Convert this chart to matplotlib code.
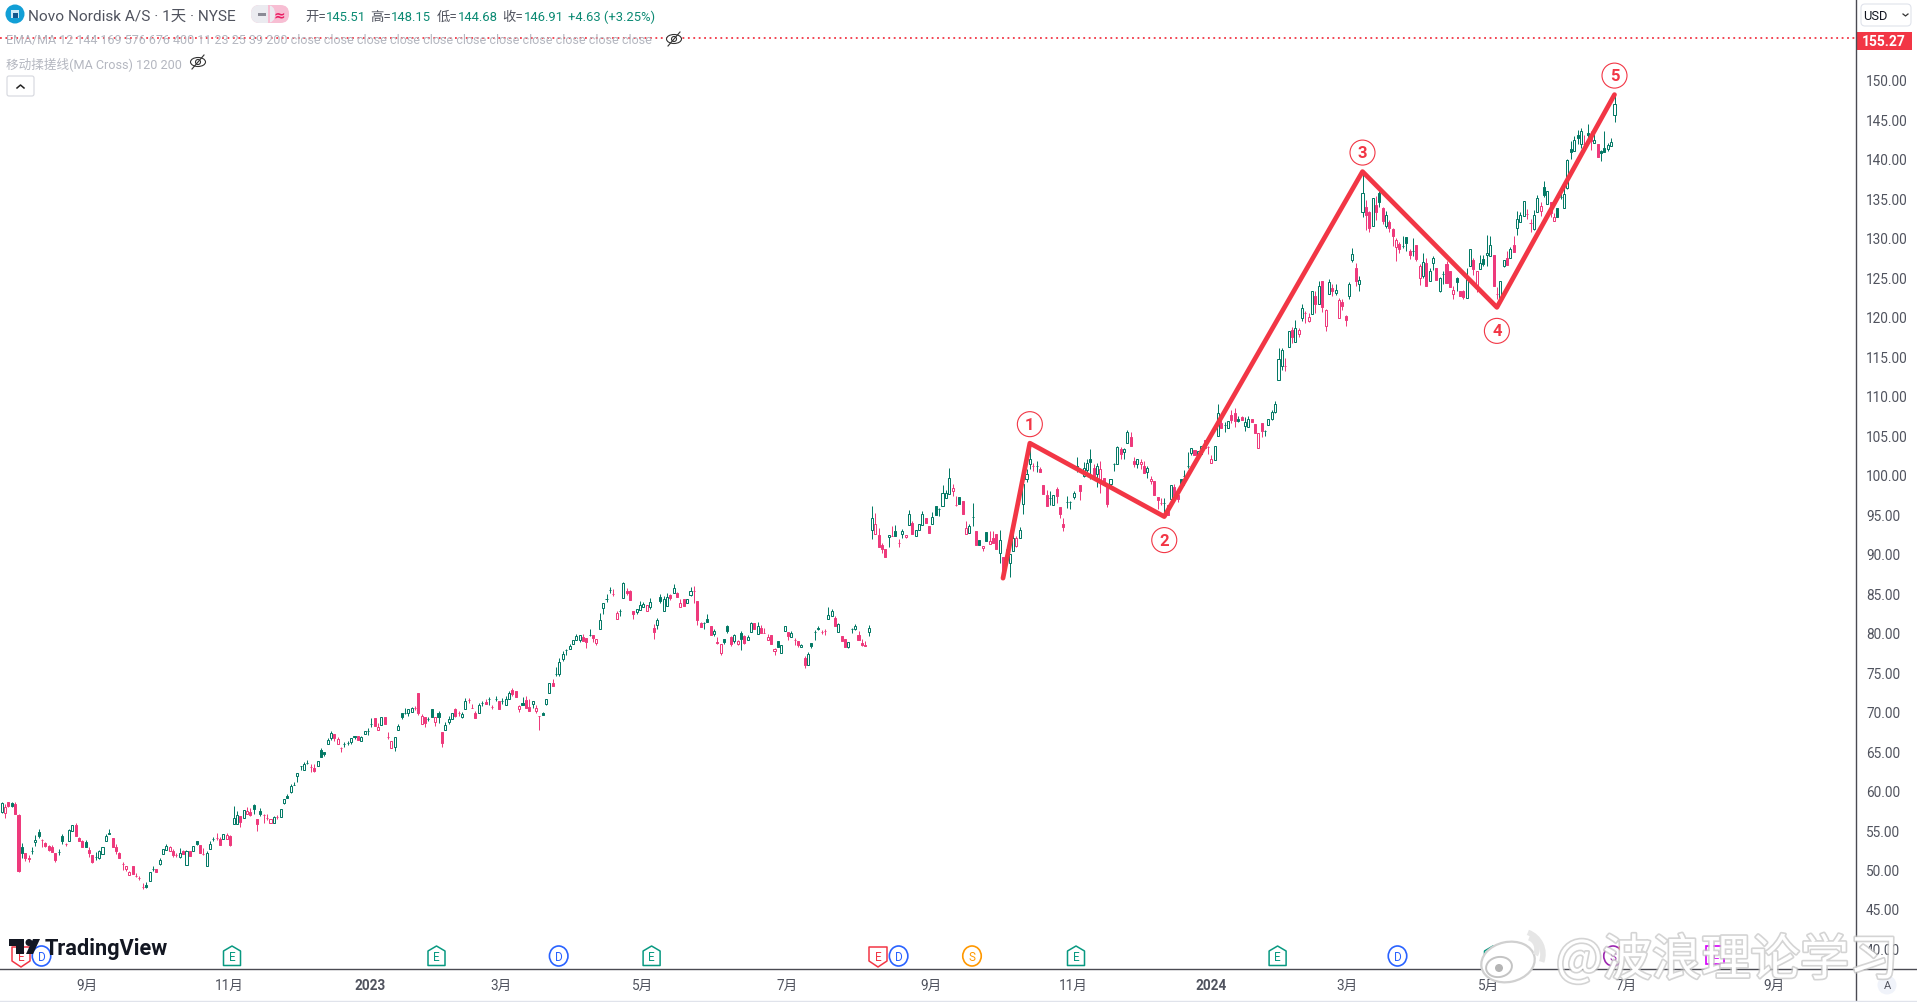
import matplotlib
matplotlib.use("Agg")
import matplotlib.pyplot as plt
from matplotlib.patches import Rectangle, Polygon, Circle, Ellipse, FancyBboxPatch, Arc
import matplotlib.patheffects as pe

plt.rcParams['font.family'] = ['Roboto', 'Noto Sans CJK SC', 'DejaVu Sans']

# daily candles
opens = [
    57.3, 57.2, 58.5, 58.4, 58.3, 56.9, 52.8, 52.1, 51.4, 52.3,
    53.45, 54.75, 53.7, 53.35, 52.95, 52.8, 52.1, 52.25, 54.25, 53.2,
    53.65, 54.85, 55.6, 54.0, 53.6, 53.5, 52.5, 51.8, 51.6, 51.4,
    51.9, 53.65, 54.6, 53.95, 52.85, 52.1, 50.65, 50.05, 49.35, 50.45,
    49.2, 48.9, 47.75, 48.1, 48.6, 50.1, 50.05, 50.7, 52.0, 52.45,
    52.3, 52.4, 51.85, 51.6, 52.35, 50.6, 52.3, 52.4, 53.55, 53.1,
    52.0, 50.5, 52.65, 53.9, 53.95, 53.9, 53.9, 53.9, 54.25, 55.7,
    55.7, 56.8, 56.55, 57.05, 57.25, 58.2, 56.4, 57.4, 56.9, 56.55,
    55.95, 55.95, 56.65, 56.7, 58.4, 59.25, 59.85, 60.65, 61.85, 63.05,
    62.65, 63.55, 63.0, 62.8, 63.15, 65.15, 64.85, 65.95, 66.7, 67.1,
    65.95, 65.35, 65.95, 66.05, 66.15, 66.85, 66.85, 66.3, 67.1, 67.55,
    68.45, 69.25, 67.7, 68.3, 69.3, 66.8, 65.4, 65.55, 67.7, 69.8,
    69.8, 69.8, 70.0, 70.5, 72.35, 68.4, 69.3, 69.05, 70.35, 68.7,
    69.8, 67.4, 67.65, 68.65, 69.05, 70.35, 69.8, 69.35, 70.3, 71.45,
    70.4, 69.8, 69.85, 71.1, 71.2, 71.65, 70.6, 71.55, 71.4, 71.3,
    70.85, 71.65, 72.7, 72.6, 70.35, 71.15, 71.45, 70.55, 71.0, 70.1,
    69.4, 69.8, 71.0, 72.4, 73.6, 74.7, 74.8, 76.65, 77.75, 77.95,
    78.5, 79.05, 79.05, 79.4, 79.3, 79.65, 79.7, 78.75, 80.5, 83.15,
    84.2, 85.4, 84.85, 81.75, 82.8, 84.35, 85.3, 85.3, 82.75, 82.6,
    82.9, 83.3, 82.8, 83.3, 80.65, 81.0, 84.5, 82.8, 83.4, 84.75,
    85.05, 85.0, 83.3, 84.25, 83.7, 84.75, 85.25, 84.0, 81.2, 81.2,
    81.7, 80.85, 79.8, 78.85, 77.4, 79.2, 80.85, 79.4, 78.95, 78.55,
    80.0, 79.55, 79.1, 80.1, 81.25, 79.8, 80.65, 79.9, 79.1, 79.7,
    77.65, 79.0, 77.4, 80.15, 80.05, 79.5, 79.05, 79.0, 78.15, 76.8,
    75.95, 78.65, 80.1, 80.65, 80.1, 80.15, 81.75, 82.05, 81.85, 80.1,
    79.55, 79.25, 78.2, 80.4, 80.5, 79.7, 78.65, 78.4, 80.05, 92.95,
    92.45, 92.35, 91.15, 90.55, 92.15, 92.25, 92.85, 91.4, 92.55, 92.1,
    93.65, 93.85, 92.3, 93.0, 93.65, 94.5, 93.45, 93.75, 96.0, 95.65,
    96.0, 97.05, 97.6, 98.0, 96.2, 97.15, 96.65, 92.5, 92.65, 94.6,
    92.9, 91.7, 90.7, 92.75, 91.2, 91.95, 92.45, 90.05, 89.6, 89.4,
    88.85, 90.4, 91.0, 92.0, 96.35, 99.4, 101.4, 101.15, 101.1, 100.7,
    98.7, 97.4, 97.0, 96.2, 98.15, 95.9, 93.7, 96.55, 96.6, 97.2,
    101.15, 98.75, 99.8, 100.65, 101.95, 100.8, 100.15, 99.3, 99.65, 98.4,
    98.8, 101.3, 101.4, 103.25, 102.9, 104.05, 104.75, 101.8, 101.3, 101.4,
    101.05, 100.4, 99.2, 99.15, 97.15, 96.4, 96.45, 96.15, 96.9, 98.4,
    97.45, 99.45, 99.9, 101.15, 102.75, 103.1, 102.5, 102.6, 104.45, 103.5,
    101.5, 101.9, 104.95, 106.55, 106.3, 105.95, 107.6, 107.8, 107.05, 107.3,
    106.2, 106.1, 107.05, 106.45, 103.45, 106.55, 105.6, 106.3, 107.0, 108.0,
    112.05, 113.8, 113.8, 116.2, 118.35, 116.85, 117.85, 119.9, 120.55, 119.5,
    120.4, 122.7, 121.6, 124.6, 118.85, 122.95, 123.65, 123.0, 119.85, 121.9,
    120.1, 122.7, 127.2, 126.2, 124.15, 133.3, 133.95, 133.3, 131.45, 134.15,
    135.75, 133.8, 131.45, 132.05, 131.1, 128.9, 129.2, 128.95, 130.1, 128.3,
    128.35, 129.05, 124.95, 125.2, 126.8, 124.6, 126.85, 126.2, 123.25, 125.4,
    126.7, 125.75, 122.95, 124.9, 123.3, 123.3, 122.45, 126.45, 127.15, 123.85,
    126.0, 127.3, 127.85, 127.65, 127.85, 122.9, 121.9, 126.5, 127.4, 127.4,
    129.1, 131.3, 132.05, 132.8, 133.0, 131.9, 131.15, 133.25, 133.45, 136.4,
    134.3, 134.5, 132.15, 133.8, 135.15, 133.75, 136.3, 141.2, 141.0, 143.0,
    141.9, 141.9, 143.35, 143.0, 142.0, 141.85, 141.0, 141.4, 141.25, 141.6,
    145.51,
]
highs = [
    58.5, 58.3, 58.6, 58.6, 58.5, 57.0, 53.4, 52.1, 51.8, 52.9,
    54.4, 55.1, 53.8, 53.5, 53.1, 53.05, 52.1, 52.6, 54.5, 53.4,
    55.15, 55.6, 55.9, 54.15, 53.7, 53.7, 52.8, 51.8, 52.25, 52.5,
    52.8, 54.5, 55.1, 53.95, 53.25, 52.2, 50.9, 50.5, 49.75, 50.45,
    49.5, 49.2, 48.3, 48.4, 49.65, 50.4, 50.05, 51.45, 52.55, 53.2,
    52.95, 52.6, 52.1, 52.7, 52.5, 52.5, 52.3, 52.95, 53.55, 53.1,
    52.7, 52.35, 53.6, 54.1, 54.6, 54.1, 54.45, 54.6, 54.4, 58.0,
    57.4, 56.8, 57.5, 57.9, 57.75, 58.3, 56.4, 57.8, 57.0, 57.0,
    56.4, 56.8, 56.9, 57.6, 58.9, 59.55, 60.85, 61.1, 62.2, 63.05,
    63.6, 63.85, 63.3, 63.3, 63.8, 65.4, 64.85, 66.65, 67.55, 67.1,
    66.8, 65.55, 66.2, 66.3, 66.7, 66.85, 66.85, 66.95, 67.5, 67.9,
    69.15, 69.25, 68.55, 69.3, 69.3, 67.4, 66.25, 66.75, 68.45, 69.8,
    70.4, 70.3, 70.6, 70.7, 72.35, 69.7, 69.3, 69.3, 70.35, 69.35,
    70.05, 67.4, 68.65, 69.4, 69.8, 70.45, 70.05, 69.9, 71.7, 71.7,
    70.9, 70.05, 71.1, 71.4, 71.55, 71.85, 70.85, 71.95, 71.4, 71.7,
    71.95, 72.55, 72.95, 72.6, 70.85, 71.8, 71.95, 71.6, 71.4, 70.85,
    69.4, 70.0, 71.65, 73.6, 74.1, 75.7, 76.75, 77.65, 77.95, 78.55,
    79.05, 79.8, 79.7, 79.8, 79.3, 80.4, 79.7, 79.2, 82.5, 83.7,
    84.85, 85.75, 85.5, 82.8, 83.0, 86.4, 85.6, 85.4, 82.75, 82.95,
    83.95, 83.85, 83.5, 84.4, 81.1, 81.9, 84.9, 84.7, 85.0, 84.95,
    86.15, 85.2, 84.25, 84.25, 84.2, 85.75, 85.85, 84.0, 81.35, 81.4,
    82.3, 80.85, 80.45, 79.5, 78.55, 79.2, 81.0, 79.6, 79.85, 79.1,
    80.2, 79.7, 79.7, 81.4, 81.25, 81.3, 81.0, 80.65, 79.8, 79.7,
    78.1, 79.0, 78.45, 80.85, 80.05, 80.2, 79.3, 79.0, 78.6, 77.0,
    77.6, 78.65, 80.35, 80.9, 80.35, 80.4, 83.25, 83.0, 82.05, 81.25,
    79.55, 79.25, 78.8, 80.65, 81.05, 80.2, 79.25, 79.0, 80.95, 96.0,
    95.15, 93.25, 91.3, 90.55, 92.4, 93.45, 93.65, 91.8, 93.1, 92.4,
    95.5, 94.1, 93.05, 93.7, 95.35, 94.5, 93.45, 95.25, 96.0, 95.85,
    98.7, 98.1, 100.8, 98.8, 97.25, 97.15, 96.65, 94.2, 93.7, 96.4,
    92.9, 91.7, 91.0, 92.75, 92.9, 92.9, 92.45, 93.0, 89.6, 90.6,
    90.0, 92.5, 92.3, 93.35, 99.2, 100.7, 104.0, 101.5, 101.75, 101.0,
    98.7, 98.05, 97.95, 97.45, 98.45, 95.9, 94.55, 97.25, 96.7, 98.0,
    102.3, 98.75, 101.65, 102.0, 103.25, 101.35, 101.55, 101.8, 99.65, 98.7,
    99.45, 101.5, 103.6, 103.55, 103.45, 105.7, 105.4, 102.25, 102.0, 102.0,
    101.8, 101.15, 99.8, 99.15, 97.15, 97.0, 97.0, 96.15, 98.75, 98.8,
    97.45, 99.45, 100.55, 102.9, 103.35, 103.1, 103.05, 103.6, 104.45, 103.7,
    102.5, 103.6, 109.0, 107.6, 106.65, 106.85, 108.2, 108.5, 107.5, 107.5,
    107.3, 107.4, 107.05, 106.45, 105.3, 106.55, 105.7, 107.05, 108.2, 109.3,
    116.05, 116.0, 114.75, 118.15, 118.7, 119.6, 118.55, 121.65, 120.75, 120.45,
    123.25, 123.3, 124.5, 124.6, 121.0, 124.8, 124.15, 124.15, 122.45, 122.2,
    120.2, 124.4, 128.7, 126.8, 125.15, 138.3, 134.8, 133.45, 135.0, 135.35,
    135.95, 133.95, 133.4, 132.25, 131.3, 130.0, 129.5, 130.2, 130.1, 128.6,
    130.05, 129.05, 126.7, 128.1, 127.4, 126.15, 127.7, 126.2, 125.1, 125.75,
    127.1, 125.75, 123.95, 125.1, 123.3, 123.45, 126.2, 128.6, 127.5, 125.75,
    127.85, 127.85, 130.35, 130.2, 127.85, 123.75, 124.5, 127.15, 128.4, 128.8,
    130.3, 133.4, 133.25, 134.7, 133.65, 132.4, 133.55, 135.45, 134.5, 137.2,
    135.9, 134.5, 133.15, 133.8, 135.8, 136.6, 140.0, 142.3, 142.85, 143.7,
    143.9, 143.0, 144.4, 143.6, 143.15, 141.85, 141.1, 143.6, 142.0, 142.6,
    148.15,
]
lows = [
    57.2, 56.5, 57.9, 57.9, 57.0, 49.7, 51.5, 51.1, 51.0, 52.0,
    53.0, 54.0, 52.85, 52.85, 52.3, 52.2, 51.0, 51.85, 53.25, 53.0,
    53.65, 54.85, 54.25, 53.65, 52.9, 52.9, 51.6, 50.8, 51.25, 51.3,
    51.9, 53.65, 54.45, 52.9, 52.0, 51.5, 50.0, 49.85, 49.35, 49.45,
    49.0, 48.7, 47.55, 47.65, 48.6, 49.85, 49.7, 50.55, 52.0, 52.45,
    52.3, 51.55, 51.6, 51.4, 51.9, 50.6, 51.75, 52.4, 53.1, 52.15,
    51.8, 50.5, 52.65, 53.55, 53.75, 53.15, 53.9, 53.9, 53.0, 55.7,
    55.7, 55.4, 56.55, 57.05, 56.8, 57.0, 54.9, 56.8, 55.9, 56.3,
    55.95, 55.95, 56.4, 56.7, 58.3, 59.1, 59.75, 60.65, 61.1, 62.65,
    62.65, 63.3, 62.35, 62.3, 63.15, 64.25, 64.4, 65.95, 66.4, 66.3,
    65.95, 64.9, 65.55, 65.75, 65.95, 66.5, 66.45, 66.3, 67.1, 67.05,
    68.05, 68.15, 67.7, 68.3, 68.4, 66.55, 65.4, 65.05, 67.7, 69.05,
    69.7, 69.5, 70.0, 70.25, 69.55, 68.4, 68.1, 68.8, 69.35, 68.15,
    68.55, 65.55, 67.65, 68.4, 69.05, 69.35, 69.45, 69.15, 70.3, 71.15,
    70.4, 69.25, 69.85, 70.75, 71.0, 70.85, 70.35, 71.4, 70.35, 71.0,
    70.85, 71.65, 72.0, 71.9, 70.0, 70.85, 70.45, 70.1, 70.45, 69.85,
    67.7, 69.6, 70.85, 72.4, 73.3, 74.55, 74.55, 76.45, 77.15, 77.95,
    78.5, 79.05, 78.85, 79.0, 78.1, 79.6, 78.85, 78.45, 80.5, 82.3,
    83.9, 85.05, 84.7, 81.75, 82.1, 84.35, 84.8, 84.1, 81.7, 82.3,
    82.9, 83.3, 82.8, 82.95, 79.25, 80.4, 83.75, 82.8, 83.4, 84.15,
    85.05, 84.5, 83.3, 83.4, 83.7, 84.6, 83.75, 80.95, 80.7, 80.5,
    81.35, 79.75, 79.55, 78.6, 77.15, 78.6, 80.0, 78.3, 78.7, 78.4,
    77.85, 78.55, 79.1, 80.1, 80.5, 79.8, 79.95, 79.9, 79.1, 78.5,
    77.15, 78.15, 77.4, 80.15, 79.05, 79.5, 78.4, 78.2, 78.15, 75.55,
    75.95, 78.0, 79.1, 80.3, 79.8, 79.75, 81.75, 82.05, 80.9, 80.1,
    79.0, 78.2, 78.0, 80.0, 80.3, 79.1, 78.3, 78.25, 79.6, 91.8,
    92.45, 90.9, 90.1, 89.6, 90.9, 92.2, 92.25, 90.8, 91.95, 91.95,
    93.65, 92.55, 92.3, 93.0, 93.65, 93.85, 92.6, 93.75, 94.95, 94.8,
    96.0, 97.05, 97.6, 97.35, 96.0, 96.35, 95.05, 92.5, 92.65, 93.55,
    91.15, 91.15, 90.4, 91.65, 91.2, 91.35, 90.65, 88.8, 86.9, 88.4,
    87.0, 90.4, 90.9, 92.0, 95.05, 99.1, 100.7, 100.5, 100.3, 100.3,
    97.5, 96.1, 96.15, 96.2, 96.45, 94.5, 92.9, 95.75, 95.65, 96.9,
    100.3, 96.8, 99.7, 100.3, 99.45, 99.7, 98.45, 97.7, 98.7, 95.95,
    98.2, 100.5, 101.4, 102.05, 102.05, 104.05, 103.7, 101.0, 100.9, 100.75,
    100.25, 99.6, 98.8, 97.45, 95.65, 96.15, 94.6, 94.9, 96.9, 97.45,
    96.6, 98.75, 98.75, 100.9, 102.55, 102.55, 102.5, 102.6, 103.35, 102.6,
    101.5, 101.9, 104.95, 105.9, 105.45, 105.95, 106.6, 106.0, 106.7, 106.9,
    105.6, 106.1, 106.7, 105.3, 103.45, 104.75, 104.85, 106.3, 106.9, 107.8,
    112.05, 113.3, 113.2, 116.2, 116.65, 116.85, 117.5, 119.5, 119.25, 119.3,
    120.4, 120.5, 121.6, 120.65, 118.25, 122.95, 122.7, 122.8, 119.85, 120.85,
    118.9, 122.25, 126.9, 123.85, 123.3, 132.6, 131.0, 130.7, 131.45, 132.25,
    133.9, 131.8, 131.2, 130.7, 128.95, 127.1, 128.15, 128.75, 128.4, 127.3,
    127.75, 127.1, 124.05, 124.9, 123.85, 124.6, 125.95, 124.65, 123.1, 124.1,
    124.3, 123.8, 122.3, 123.3, 122.7, 122.2, 122.45, 126.45, 125.3, 123.2,
    126.0, 126.5, 126.5, 127.65, 123.85, 122.25, 121.9, 126.35, 126.55, 127.4,
    128.25, 130.35, 132.05, 132.8, 132.4, 130.8, 131.0, 133.25, 132.8, 135.2,
    134.3, 132.6, 132.15, 132.65, 134.9, 133.75, 136.2, 140.0, 141.0, 141.95,
    141.4, 141.8, 142.0, 141.1, 142.0, 140.25, 139.8, 140.85, 141.0, 141.6,
    144.68,
]
closes = [
    58.4, 57.9, 58.0, 58.05, 57.0, 49.8, 52.1, 51.5, 51.3, 52.35,
    53.7, 54.25, 53.7, 52.95, 52.5, 52.2, 51.2, 52.25, 53.6, 53.2,
    55.0, 55.6, 54.25, 53.65, 52.9, 52.9, 52.15, 50.95, 51.6, 52.35,
    52.8, 54.25, 54.45, 52.9, 52.35, 51.5, 50.65, 50.5, 49.65, 49.45,
    49.2, 48.9, 47.75, 47.8, 49.65, 50.1, 49.7, 51.2, 52.55, 52.95,
    52.8, 51.85, 51.85, 52.15, 51.9, 52.3, 51.75, 52.95, 53.2, 52.15,
    52.0, 52.1, 53.2, 53.9, 53.95, 53.15, 54.45, 54.35, 53.1, 56.5,
    56.9, 56.0, 57.5, 57.35, 56.9, 57.65, 55.7, 57.0, 56.9, 56.55,
    56.4, 56.6, 56.65, 57.6, 58.9, 59.1, 60.55, 60.65, 62.2, 63.05,
    63.35, 63.55, 63.0, 62.5, 63.8, 64.25, 64.65, 66.35, 67.3, 66.7,
    66.5, 65.35, 65.95, 66.05, 66.7, 66.75, 66.45, 66.75, 67.5, 67.55,
    68.45, 68.15, 68.0, 69.3, 68.4, 66.8, 66.25, 66.75, 68.15, 69.3,
    69.8, 70.3, 70.45, 70.5, 69.8, 69.4, 68.55, 69.05, 69.35, 69.35,
    69.3, 66.05, 68.3, 69.05, 69.8, 69.5, 69.8, 69.7, 71.4, 71.45,
    70.4, 69.25, 70.8, 71.1, 71.0, 71.65, 70.6, 71.55, 70.35, 71.3,
    71.65, 72.35, 72.2, 71.9, 70.65, 70.85, 70.45, 70.1, 71.4, 70.4,
    69.4, 69.6, 71.65, 73.6, 73.3, 74.7, 76.25, 77.25, 77.75, 78.25,
    79.05, 79.55, 79.7, 79.0, 78.8, 79.65, 79.35, 79.2, 81.65, 83.7,
    84.2, 85.4, 84.85, 82.5, 82.8, 86.3, 85.0, 84.1, 82.35, 82.95,
    83.45, 83.65, 83.5, 83.85, 80.1, 81.6, 84.0, 84.2, 84.55, 84.4,
    85.65, 84.5, 83.75, 83.4, 84.2, 85.25, 85.25, 81.6, 80.7, 81.2,
    81.35, 79.75, 80.15, 78.7, 78.55, 78.85, 80.15, 78.55, 79.65, 78.9,
    79.2, 78.7, 79.45, 81.2, 80.5, 80.8, 79.95, 79.9, 79.4, 78.5,
    77.9, 78.15, 78.45, 80.85, 79.55, 79.95, 79.05, 78.4, 78.4, 75.9,
    77.25, 78.3, 80.1, 80.4, 80.1, 80.15, 82.25, 82.75, 80.9, 81.05,
    79.0, 78.2, 78.8, 80.4, 80.85, 79.1, 78.45, 78.25, 80.55, 94.5,
    93.7, 90.9, 90.65, 89.6, 92.4, 92.25, 92.25, 91.4, 92.85, 92.4,
    95.0, 92.55, 93.05, 93.7, 95.05, 93.85, 92.6, 94.6, 94.95, 95.65,
    97.65, 97.65, 99.65, 98.3, 96.2, 96.35, 95.05, 93.2, 93.45, 94.6,
    91.15, 91.15, 91.0, 91.65, 91.55, 91.35, 90.65, 91.75, 86.9, 88.85,
    90.0, 92.05, 92.0, 92.95, 98.8, 100.05, 102.05, 101.15, 101.1, 100.3,
    97.5, 96.1, 97.0, 97.45, 97.3, 95.05, 93.4, 96.55, 96.6, 97.7,
    100.7, 97.95, 100.9, 101.55, 101.65, 99.9, 101.05, 100.7, 98.7, 96.3,
    99.45, 101.3, 103.5, 102.65, 103.2, 105.45, 103.7, 101.3, 102.0, 101.65,
    100.25, 100.8, 99.45, 97.45, 96.8, 96.4, 96.45, 94.9, 98.75, 97.45,
    96.95, 98.75, 99.9, 101.15, 103.35, 102.55, 103.05, 103.6, 103.35, 103.5,
    102.05, 103.6, 107.8, 105.9, 106.3, 106.85, 106.9, 106.85, 106.85, 106.9,
    106.65, 107.05, 106.7, 105.3, 105.3, 105.6, 105.6, 107.05, 108.0, 109.0,
    114.65, 115.75, 113.8, 118.15, 117.4, 118.55, 118.35, 121.1, 120.55, 119.95,
    123.25, 121.65, 123.85, 121.3, 120.85, 124.4, 123.3, 123.35, 122.1, 121.4,
    119.6, 124.15, 127.95, 124.55, 124.65, 135.75, 132.9, 131.2, 135.0, 133.3,
    134.5, 132.2, 132.9, 131.3, 130.25, 129.75, 128.65, 128.95, 129.3, 127.85,
    128.35, 127.35, 126.4, 126.9, 123.85, 125.8, 127.45, 124.65, 124.9, 125.4,
    124.3, 123.8, 123.4, 124.45, 122.7, 122.5, 125.15, 128.6, 126.0, 125.75,
    126.8, 126.7, 128.15, 129.05, 123.85, 122.9, 124.5, 127.15, 126.55, 128.6,
    128.25, 132.4, 132.85, 134.7, 133.0, 131.9, 132.9, 135.0, 134.0, 135.45,
    135.9, 133.2, 132.6, 132.65, 135.15, 135.5, 139.85, 140.9, 142.35, 142.7,
    143.5, 141.9, 143.05, 142.3, 142.4, 140.25, 140.7, 140.85, 141.8, 142.2,
    146.91,
]
# g = up on the previous close, p = down on it
bar_colors = (
    "gppgppgppg" "ggpppppggp" "ggpppgppgg" "gggppppppp" "pppgggpggg"
    "pppgpgpggp" "pgggppgppg" "gpgppgpgpp" "pgpggggggg" "ggppgggggp"
    "ppggggpggg" "gppgpppggg" "gggppppggp" "gpgggppggp" "ppggpgpgpg"
    "ggpppgppgp" "pgggpggggg" "gggppgppgg" "ggppggpppg" "ggpgpggggp"
    "gpppggpppg" "gpgppggpgp" "gpggpgpppp" "pgggpgppgp" "ggggppggpg"
    "ppgggpppgg" "ppppgpgpgp" "gpgggppggg" "gggppgppgg" "pgpgpppgpg"
    "ggpggggpgp" "ppggpppggg" "gpgggpgppp" "gggpggppgp" "pgppppgpgp"
    "pggggpggpp" "pggpggppgp" "ggppppgggg" "ggpgpgpgpp" "gpgppgpgpp"
    "pggpggppgp" "gpgppppggp" "gppgpggpgg" "pppgppggpp" "ggggppggpg"
    "pgggppggpg" "gppggggggg" "gpgpgpgggg" "g"
)

price_ticks = [40, 45, 50, 55, 60, 65, 70, 75, 80, 85, 90, 95, 100, 105, 110, 115,
               120, 125, 130, 135, 140, 145, 150]
time_ticks = [25.4, 67.6, 109.6, 148.6, 190.6, 233.7, 276.6, 318.8, 359.9, 400.4, 442.6, 483.4, 527.5]
time_labels = ['9月', '11月', '2023', '3月', '5月', '7月', '9月', '11月', '2024', '3月', '5月', '7月', '9月']

wave_idx = [298, 306, 346, 405, 445, 480]
wave_price = [86.9, 104.0, 94.7, 138.4, 121.2, 148.15]
wave_labels = ['1', '2', '3', '4', '5']
last_alert = 155.27

GREEN = '#047a66'
PINK = '#ee3a7c'
RED = '#f23645'
TXT = '#50535e'

W, H = 1917, 1003
fig = plt.figure(figsize=(W / 100, H / 100), dpi=100, facecolor='white')

# px per bar / px per dollar measured from the axis labels
ax = fig.add_axes([0, (H - 969.5) / H, 1855 / W, 969.5 / H])
ax.set_xlim(-1.7 / 3.36, (1855 - 1.7) / 3.36)
ax.set_ylim(150 - (969.5 - 81) / 7.895, 150 + 81 / 7.895)

xs = list(range(len(closes)))
cols = [GREEN if c == 'g' else PINK for c in bar_colors]
ax.vlines(xs, lows, highs, colors=cols, linewidth=0.72, zorder=2)
bottoms = [min(o, c) for o, c in zip(opens, closes)]
heights = [abs(o - c) for o, c in zip(opens, closes)]
faces = ['white' if c > o else col for o, c, col in zip(opens, closes, cols)]
# bars one by one so each snaps to whole pixels
for x0, b, h, fc, ec in zip(xs, bottoms, heights, faces, cols):
    ax.add_patch(Rectangle((x0 - 0.3, b), 0.6, h, fc=fc, ec=ec, lw=0.72, snap=True, zorder=3))

ax.plot(wave_idx, wave_price, color=RED, linewidth=3.4, solid_joinstyle='round', solid_capstyle='round', zorder=4)
for i, lab in enumerate(wave_labels):
    idx, p = wave_idx[i + 1], wave_price[i + 1]
    up = lab in '135'
    ax.annotate(lab, (idx, p), xytext=(0, 19 if up else -23.5), textcoords='offset pixels',
                ha='center', va='center', color=RED, fontsize=12, fontweight='bold', zorder=6,
                bbox=dict(boxstyle='circle,pad=0.3', fc='white', ec=RED, lw=0.8))

ax.axhline(last_alert, color=RED, linewidth=1.3, linestyle=(0, (1, 2.0)), zorder=1)

for s in ax.spines.values():
    s.set_visible(False)
ax.yaxis.tick_right()
ax.set_yticks(price_ticks, [f'{v:.2f}' for v in price_ticks])
ax.tick_params(axis='y', length=0, pad=8, labelsize=9.8, labelcolor=TXT)
ax.set_xticks(time_ticks, time_labels)
ax.tick_params(axis='x', length=0, pad=6.5, labelsize=9.8, labelcolor=TXT)
for t in ax.get_xticklabels():
    if t.get_text() in ('2023', '2024'):
        t.set_fontweight('bold')

# everything else sits on a pixel overlay
ov = fig.add_axes([0, 0, 1, 1], zorder=10)
ov.set_xlim(0, W)
ov.set_ylim(H, 0)
ov.axis('off')
ov.patch.set_alpha(0)

ov.plot([0, W], [969.5, 969.5], color='#4a4a52', lw=1.0)
ov.plot([1855.5, 1855.5], [0, 1001], color='#4a4a52', lw=1.0)
ov.plot([0, W], [1001.5, 1001.5], color='#e0e3eb', lw=1.0)

ov.add_patch(Rectangle((1856, 33), 56, 18, fc=RED, ec='none'))
ov.text(1884, 42, f'{last_alert:.2f}', color='white', fontsize=10, fontweight='bold', ha='center', va='center')
ov.add_patch(FancyBboxPatch((1861, 5), 50, 22, boxstyle='round,pad=0,rounding_size=4', fc='white', ec='#e0e3eb', lw=0.8))
ov.text(1863, 16, 'USD', color='#131722', fontsize=9.3, va='center')
ov.plot([1903, 1905.5, 1908], [15, 17, 15], color='#333', lw=0.9)
ov.add_patch(Circle((1887, 986), 9.5, fc='#f0f3fa', ec='none'))
ov.text(1887, 986, 'A', color=TXT, fontsize=8, ha='center', va='center')

# top-left legend
ov.add_patch(Circle((15, 15), 9.5, fc='#129fd6', ec='none'))
ov.add_patch(Rectangle((11, 11), 8, 8, fc='white', ec='none', alpha=0.8))
ov.add_patch(Rectangle((12.5, 14), 5, 5, fc='#12578c', ec='none'))
ov.text(28, 17, 'Novo Nordisk A/S · 1天 · NYSE', color=TXT, fontsize=11.1, va='center')
ov.add_patch(FancyBboxPatch((251, 6), 38, 18, boxstyle='round,pad=0,rounding_size=8.5', fc='#f7bed3', ec='none'))
ov.add_patch(FancyBboxPatch((251, 6), 24, 18, boxstyle='round,pad=0,rounding_size=8.5', fc='#ebebf0', ec='none'))
ov.add_patch(Rectangle((268, 6), 2, 18, fc='#f7bed3', ec='none'))
ov.add_patch(Rectangle((258, 14), 8, 3, fc='#8a8a95', ec='none'))
ov.text(279, 15, '≈', color='#e91e63', fontsize=10, fontweight='bold', ha='center', va='center', family='DejaVu Sans')

ohlc_names = ['开=', '高=', '低=', '收=']
ohlc_x = [305, 370, 436.5, 502.6]
ohlc_vals = [opens[-1], highs[-1], lows[-1], closes[-1]]
for name, x0, val in zip(ohlc_names, ohlc_x, ohlc_vals):
    ov.text(x0, 17, name, color=TXT, fontsize=9.6, va='center')
    ov.text(x0 + 21, 17, f'{val:.2f}', color='#0b8a73', fontsize=9.4, va='center')
ov.text(568, 17, '+4.63 (+3.25%)', color='#0b8a73', fontsize=9.4, va='center')

ov.text(6.5, 40.5, 'EMA/MA 12 144 169 576 676 400 11 23 25 39 200 ' + ' '.join(['close'] * 11),
        color='#b4b7c0', fontsize=9.0, va='center', zorder=3)
ov.text(6.5, 65, '移动揉搓线(MA Cross) 120 200', color='#b4b7c0', fontsize=9.1, va='center')


def eye(x, y):
    ov.add_patch(Ellipse((x, y), 15, 9, fc='white', ec='#333', lw=0.8, zorder=4))
    ov.add_patch(Circle((x, y), 2.5, fc='none', ec='#333', lw=0.8, zorder=4))
    ov.plot([x - 6, x + 6], [y + 7, y - 7], color='#333', lw=0.8, zorder=4)


eye(674, 40)
eye(198, 63)
ov.add_patch(FancyBboxPatch((7, 77), 27, 20, boxstyle='round,pad=0,rounding_size=2', fc='white', ec='#d5d7de', lw=0.8))
ov.plot([17, 20.5, 24], [89, 86, 89], color='#222', lw=1.1)


# event flags along the time axis
def flag(x, letter, col, up=True):
    if up:
        pts = [(x - 8.5, 966.5), (x + 8.5, 966.5), (x + 8.5, 952), (x, 947), (x - 8.5, 952)]
    else:
        pts = [(x - 9, 948), (x + 9, 948), (x + 9, 962), (x, 968), (x - 9, 962)]
    ov.add_patch(Polygon(pts, closed=True, fc='white', ec=col, lw=1.1, joinstyle='round'))
    ov.text(x, 957.5, letter, color=col, fontsize=8.5, ha='center', va='center')


def dot(x, letter, col):
    ov.add_patch(Ellipse((x, 957), 18.5, 20, fc='white', ec=col, lw=1.2))
    ov.text(x, 957.5, letter, color=col, fontsize=8.5, ha='center', va='center')


flag(21, 'E', RED, up=False)
dot(41.5, 'D', '#2962ff')
for x0 in [232, 436.5, 651.6, 1076, 1277.6, 1493]:
    flag(x0, 'E', '#089981')
for x0 in [558.7, 898.6, 1397.5]:
    dot(x0, 'D', '#2962ff')
flag(878, 'E', RED, up=False)
dot(972, 'S', '#ff9800')
dot(1613, 'S', '#9c27b0')
ov.add_patch(Circle((1621, 949), 2.5, fc=RED, ec='none', zorder=5))
ov.add_patch(Rectangle((1706, 947), 18, 18, fc='white', ec='#d500f9', lw=1.2))
ov.text(1715, 956, 'E', color='#d500f9', fontsize=8, ha='center', va='center')

# TradingView logo
ov.add_patch(Polygon([(9, 940), (24, 940), (24, 955), (16, 955), (16, 947), (9, 947)], fc='#131722', ec='none', zorder=6))
ov.add_patch(Circle((29, 943.5), 3.5, fc='#131722', ec='none', zorder=6))
ov.add_patch(Polygon([(33, 940), (40, 940), (33, 955), (26, 955)], fc='#131722', ec='none', zorder=6))
ov.text(45, 949.5, 'TradingView', color='#131722', fontsize=15.7, fontweight='bold', va='center', zorder=6)

# weibo watermark
shadow = [pe.withStroke(linewidth=2.4, foreground='#c6c6c6', alpha=0.75)]
ov.text(1556, 962, '@波浪理论学习', color='white', fontsize=35.5, va='center', zorder=8,
        family=['Noto Sans CJK SC', 'DejaVu Sans'], path_effects=shadow)
body = Ellipse((1508, 963), 54, 40, angle=-12, fc='white', ec='#d0d0d0', lw=1.6, zorder=8)
ov.add_patch(body)
ov.add_patch(Ellipse((1499, 968), 26, 20, angle=-10, fc='white', ec='#c4c4c4', lw=1.4, zorder=8))
ov.add_patch(Circle((1499, 969), 4, fc='#b4b4b4', ec='none', zorder=9))
ov.add_patch(Arc((1525, 950), 24, 24, theta1=-70, theta2=30, ec='#e6e6e6', lw=4, zorder=8))
ov.add_patch(Arc((1520, 955), 46, 46, theta1=-70, theta2=20, ec='#e6e6e6', lw=4, zorder=8))

fig.savefig('out.png', dpi=100)
